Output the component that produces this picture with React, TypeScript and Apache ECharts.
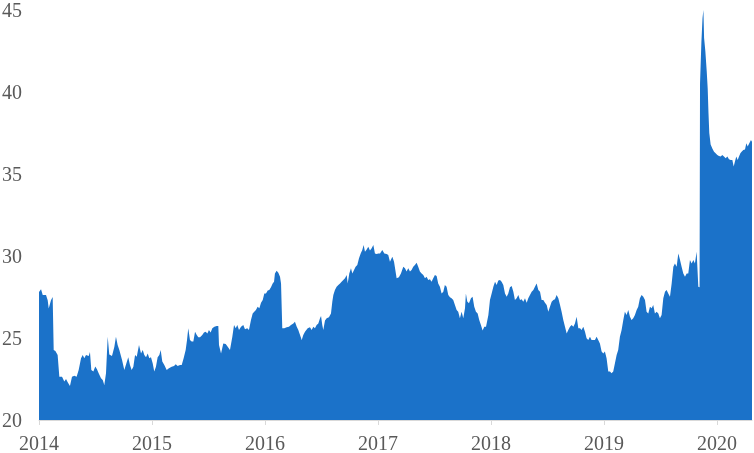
import React, { useEffect, useRef } from "react";
import * as echarts from "echarts";

// Decimal-year positions of the readings
const dates: number[] = [
  2014.0, 2014.018, 2014.033, 2014.062, 2014.077, 2014.086, 2014.106, 2014.121, 2014.13, 2014.145,
  2014.165, 2014.18, 2014.204, 2014.224, 2014.239, 2014.254, 2014.274, 2014.292, 2014.313, 2014.333,
  2014.351, 2014.372, 2014.387, 2014.401, 2014.416, 2014.44, 2014.451, 2014.463, 2014.481, 2014.498,
  2014.513, 2014.528, 2014.549, 2014.564, 2014.578, 2014.593, 2014.608, 2014.622, 2014.646, 2014.667,
  2014.681, 2014.696, 2014.711, 2014.735, 2014.755, 2014.79, 2014.805, 2014.82, 2014.835, 2014.85,
  2014.865, 2014.885, 2014.903, 2014.918, 2014.932, 2014.947, 2014.962, 2014.976, 2014.991,
  2015.006, 2015.02, 2015.035, 2015.05, 2015.065, 2015.077, 2015.091, 2015.109, 2015.13, 2015.15,
  2015.174, 2015.195, 2015.21, 2015.227, 2015.248, 2015.263, 2015.28, 2015.298, 2015.31, 2015.321,
  2015.336, 2015.351, 2015.366, 2015.381, 2015.396, 2015.41, 2015.425, 2015.445, 2015.46, 2015.475,
  2015.49, 2015.504, 2015.519, 2015.534, 2015.552, 2015.573, 2015.587, 2015.593, 2015.611, 2015.631,
  2015.652, 2015.67, 2015.69, 2015.711, 2015.726, 2015.741, 2015.755, 2015.77, 2015.788, 2015.808,
  2015.823, 2015.843, 2015.858, 2015.876, 2015.891, 2015.905, 2015.92, 2015.935, 2015.95, 2015.965,
  2015.98, 2015.994,
  2016.009, 2016.024, 2016.038, 2016.053, 2016.068, 2016.08, 2016.088, 2016.103, 2016.118, 2016.133,
  2016.142, 2016.153, 2016.171, 2016.192, 2016.212, 2016.23, 2016.251, 2016.265, 2016.281, 2016.295,
  2016.31, 2016.325, 2016.339, 2016.354, 2016.378, 2016.398, 2016.413, 2016.428, 2016.442, 2016.457,
  2016.472, 2016.487, 2016.496, 2016.507, 2016.516, 2016.531, 2016.546, 2016.566, 2016.584, 2016.596,
  2016.605, 2016.619, 2016.634, 2016.649, 2016.664, 2016.678, 2016.693, 2016.708, 2016.723, 2016.732,
  2016.746, 2016.761, 2016.773, 2016.788, 2016.802, 2016.817, 2016.832, 2016.847, 2016.861, 2016.873,
  2016.885, 2016.9, 2016.914, 2016.929, 2016.944, 2016.959, 2016.973, 2016.988,
  2017.003, 2017.018, 2017.038, 2017.056, 2017.077, 2017.091, 2017.106, 2017.127, 2017.142, 2017.165,
  2017.185, 2017.203, 2017.224, 2017.239, 2017.253, 2017.268, 2017.283, 2017.297, 2017.312, 2017.327,
  2017.342, 2017.356, 2017.371, 2017.386, 2017.401, 2017.416, 2017.43, 2017.445, 2017.46, 2017.474,
  2017.489, 2017.504, 2017.519, 2017.533, 2017.548, 2017.563, 2017.578, 2017.592, 2017.607, 2017.622,
  2017.637, 2017.651, 2017.666, 2017.681, 2017.696, 2017.71, 2017.725, 2017.74, 2017.755, 2017.77,
  2017.778, 2017.79, 2017.805, 2017.823, 2017.837, 2017.852, 2017.867, 2017.882, 2017.896, 2017.911,
  2017.926, 2017.941, 2017.956, 2017.977, 2017.991,
  2018.006, 2018.021, 2018.036, 2018.05, 2018.065, 2018.08, 2018.094, 2018.109, 2018.124, 2018.139,
  2018.153, 2018.168, 2018.183, 2018.198, 2018.212, 2018.227, 2018.242, 2018.257, 2018.271, 2018.286,
  2018.301, 2018.316, 2018.33, 2018.345, 2018.36, 2018.375, 2018.389, 2018.404, 2018.419, 2018.434,
  2018.448, 2018.463, 2018.478, 2018.493, 2018.507, 2018.522, 2018.537, 2018.552, 2018.566, 2018.581,
  2018.596, 2018.611, 2018.625, 2018.64, 2018.655, 2018.67, 2018.684, 2018.699, 2018.714, 2018.729,
  2018.743, 2018.758, 2018.773, 2018.788, 2018.802, 2018.817, 2018.832, 2018.846, 2018.861, 2018.876,
  2018.89, 2018.905, 2018.92, 2018.935, 2018.949, 2018.964, 2018.979, 2018.994,
  2019.008, 2019.023, 2019.038, 2019.053, 2019.067, 2019.082, 2019.097, 2019.112, 2019.126, 2019.141,
  2019.156, 2019.171, 2019.185, 2019.2, 2019.215, 2019.23, 2019.244, 2019.259, 2019.274, 2019.289,
  2019.303, 2019.318, 2019.333, 2019.348, 2019.363, 2019.377, 2019.392, 2019.407, 2019.422, 2019.436,
  2019.451, 2019.466, 2019.481, 2019.495, 2019.51, 2019.525, 2019.54, 2019.554, 2019.569, 2019.584,
  2019.599, 2019.614, 2019.628, 2019.643, 2019.658, 2019.673, 2019.687, 2019.702, 2019.717, 2019.732,
  2019.746, 2019.761, 2019.776, 2019.791, 2019.805, 2019.82, 2019.835, 2019.846, 2019.85, 2019.862,
  2019.872, 2019.88, 2019.886, 2019.897, 2019.909, 2019.918, 2019.925, 2019.932, 2019.944, 2019.959,
  2019.974, 2019.988,
  2020.003, 2020.018, 2020.033, 2020.047, 2020.062, 2020.077, 2020.092, 2020.106, 2020.121, 2020.136,
  2020.148, 2020.159, 2020.171, 2020.183, 2020.195, 2020.207, 2020.218, 2020.233, 2020.248, 2020.26,
  2020.272, 2020.286, 2020.301, 2020.31,
];

const values: number[] = [
  27.8, 27.97, 27.62, 27.62, 27.3, 26.8, 27.3, 27.5, 24.27, 24.2,
  23.96, 22.64, 22.64, 22.34, 22.5, 22.3, 22.07, 22.64, 22.7, 22.64,
  23.05, 23.76, 23.96, 23.76, 23.96, 23.9, 24.15, 23.05, 22.95, 23.26,
  23.1, 22.85, 22.54, 22.44, 22.13, 22.85, 25.08, 24.0, 23.9, 24.47,
  25.08, 24.57, 24.27, 23.66, 23.05, 23.82, 23.35, 23.05, 23.25, 23.96,
  23.86, 24.57, 24.06, 24.27, 23.96, 23.82, 24.06, 23.76, 23.82,
  23.46, 22.95, 23.25, 23.82, 23.96, 24.27, 23.56, 23.35, 23.05, 23.15,
  23.25, 23.29, 23.4, 23.29, 23.35, 23.35, 23.76, 24.27, 24.88, 25.59,
  24.88, 24.78, 24.78, 25.38, 25.18, 25.04, 25.04, 25.18, 25.33, 25.38,
  25.28, 25.49, 25.33, 25.59, 25.69, 25.73, 25.73, 24.57, 24.06, 24.67,
  24.63, 24.47, 24.27, 25.08, 25.79, 25.59, 25.79, 25.49, 25.69, 25.79,
  25.53, 25.59, 25.49, 26.1, 26.5, 26.6, 26.71, 26.91, 26.81, 27.15,
  27.32, 27.72,
  27.72, 27.89, 27.93, 28.09, 28.33, 28.43, 28.94, 29.1, 28.98, 28.74,
  28.33, 25.59, 25.59, 25.65, 25.69, 25.79, 25.89, 25.99, 25.69, 25.49,
  25.18, 24.88, 25.18, 25.38, 25.59, 25.65, 25.49, 25.69, 25.59, 25.79,
  25.89, 26.2, 26.34, 25.79, 25.49, 26.06, 26.2, 26.26, 26.5, 27.22,
  27.62, 27.93, 28.13, 28.23, 28.33, 28.43, 28.54, 28.64, 28.84, 28.33,
  28.94, 29.25, 28.94, 29.15, 29.35, 29.45, 29.86, 30.16, 30.37, 30.67,
  30.26, 30.4, 30.57, 30.33, 30.47, 30.67, 30.16, 30.12,
  30.16, 30.16, 30.37, 30.16, 30.12, 30.06, 29.65, 29.96, 29.65, 28.64,
  28.7, 28.94, 29.35, 29.25, 29.05, 29.25, 29.05, 29.15, 29.35, 29.45,
  29.59, 29.35, 29.05, 28.94, 28.84, 28.64, 28.74, 28.54, 28.58, 28.43,
  28.64, 28.84, 28.78, 28.33, 28.13, 27.72, 27.82, 28.23, 28.13, 27.62,
  27.48, 27.42, 27.32, 27.01, 26.71, 26.6, 26.2, 26.6, 26.2, 26.81,
  27.72, 27.22, 27.12, 27.42, 27.52, 26.91, 26.6, 26.5, 26.1, 25.79,
  25.45, 25.69, 25.69, 26.4, 27.32,
  27.72, 28.13, 28.43, 28.23, 28.5, 28.54, 28.43, 28.23, 27.72, 27.52,
  27.72, 28.09, 28.17, 27.82, 27.32, 27.42, 27.62, 27.32, 27.36, 27.21,
  27.42, 27.15, 27.42, 27.62, 27.82, 27.93, 28.13, 28.33, 27.93, 27.82,
  27.32, 27.32, 27.15, 27.01, 26.6, 26.91, 27.21, 27.32, 27.36, 27.62,
  27.42, 27.01, 26.6, 26.1, 25.69, 25.28, 25.49, 25.69, 25.79, 25.69,
  25.89, 26.3, 25.59, 25.59, 25.49, 25.69, 25.38, 24.98, 24.88, 25.08,
  24.88, 24.88, 24.88, 25.08, 24.88, 24.67, 24.17, 24.06,
  24.17, 23.76, 22.95, 22.95, 22.85, 22.95, 23.46, 23.96, 24.27, 25.08,
  25.49, 26.1, 26.6, 26.4, 26.71, 26.3, 26.1, 26.2, 26.4, 26.71,
  26.91, 27.42, 27.62, 27.52, 27.32, 26.6, 26.5, 26.91, 26.81, 27.01,
  26.5, 26.6, 26.5, 26.2, 26.4, 27.42, 27.82, 27.93, 27.72, 27.52,
  28.33, 29.35, 29.55, 29.35, 30.16, 29.76, 29.35, 28.94, 28.74, 28.94,
  28.94, 29.76, 29.55, 29.76, 29.55, 30.26, 28.13, 28.1, 40.5, 43.0,
  44.5, 45.0, 43.3, 42.5, 41.3, 40.2, 38.7, 37.5, 36.8, 36.56,
  36.36, 36.26,
  36.16, 36.1, 36.06, 36.16, 36.06, 35.96, 36.06, 35.9, 35.86, 35.86,
  35.45, 35.76, 36.06, 35.86, 36.06, 36.26, 36.36, 36.46, 36.5, 36.87,
  36.67, 36.87, 37.07, 36.97,
];

const yearTicks: number[] = [2014, 2015, 2016, 2017, 2018, 2019, 2020];
const xMin = 2014;
const xMax = 2020.31;
const yMin = 20;
const yMax = 45;
const yStep = 5;

export default function App() {
  const ref = useRef<HTMLDivElement>(null);

  useEffect(() => {
    if (!ref.current) return;
    const chart = echarts.init(ref.current, undefined, { renderer: "svg" });
    const data = dates.map((d, i) => [d, values[i]]);
    const labelFont = {
      color: "#595959",
      fontFamily: "'Liberation Serif', 'Times New Roman', serif",
      fontSize: 20,
    };
    chart.setOption({
      animation: false,
      grid: {
        left: 39,
        right: 2,
        top: 10,
        bottom: 33,
        containLabel: false,
        outerBoundsMode: "none",
      },
      xAxis: {
        type: "value",
        min: xMin,
        max: xMax,
        interval: 1,
        axisLine: { show: true, lineStyle: { color: "#d9d9d9", width: 1 } },
        axisTick: {
          show: true,
          customValues: yearTicks,
          length: 5,
          lineStyle: { color: "#d9d9d9" },
        },
        axisLabel: {
          ...labelFont,
          customValues: yearTicks,
          margin: 14,
          lineHeight: 18,
          formatter: (v: number) => String(Math.round(v)),
        },
        splitLine: { show: false },
      },
      yAxis: {
        type: "value",
        min: yMin,
        max: yMax,
        interval: yStep,
        axisLine: { show: false },
        axisTick: { show: false },
        splitLine: { show: false },
        axisLabel: { ...labelFont, margin: 17, lineHeight: 18 },
      },
      series: [
        {
          type: "line",
          data,
          symbol: "none",
          showSymbol: false,
          lineStyle: { width: 0, color: "#1b72c9" },
          itemStyle: { color: "#1b72c9" },
          areaStyle: { color: "#1b72c9", opacity: 1 },
        },
      ],
    });
    return () => chart.dispose();
  }, []);

  return (
    <div
      ref={ref}
      style={{ position: "fixed", left: 0, top: 0, width: 754, height: 453 }}
    />
  );
}
